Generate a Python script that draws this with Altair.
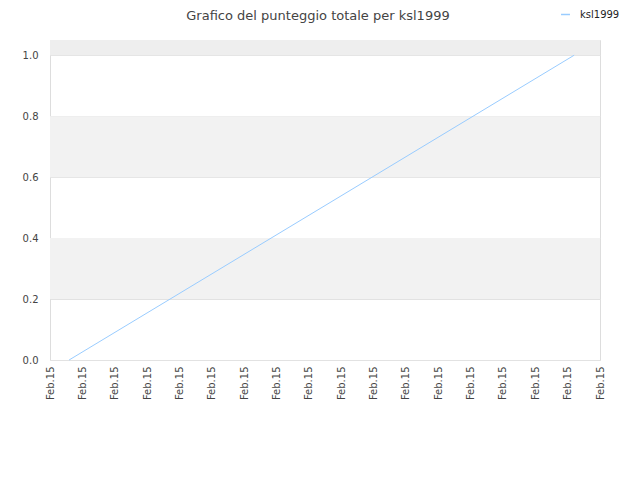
import altair as alt
import pandas as pd

# Data
title_text = "Grafico del punteggio totale per ksl1999"
series_name = "ksl1999"
x_positions = [0.59, 16.2]      # position along the time axis (tick index units)
scores = [0.0, 1.0]
tick_values = list(range(18))
tick_label = "Feb.15"
band_lo = [0.2, 0.6, 1.0]
band_hi = [0.4, 0.8, 1.05]
band_col = ["#f2f2f2", "#f2f2f2", "#eeeeee"]

line_df = pd.DataFrame({"x": x_positions, "y": scores, "serie": [series_name] * len(scores)})
band_df = pd.DataFrame({"lo": band_lo, "hi": band_hi, "c": band_col})

xscale = alt.Scale(domain=[0, 17], nice=False, zero=False)
yscale = alt.Scale(domain=[0, 1.05], nice=False)

bands = alt.Chart(band_df).mark_rect().encode(
    x=alt.value(0), x2=alt.value(550),
    y=alt.Y("lo:Q", scale=yscale),
    y2="hi:Q",
    color=alt.Color("c:N", scale=None),
)

title = alt.Chart(pd.DataFrame({"t": [title_text]})).mark_text(
    fontSize=13, color="#444", font="DejaVu Sans", align="center", baseline="alphabetic"
).encode(text="t:N", x=alt.value(268), y=alt.value(-20))

line = alt.Chart(line_df).mark_line(strokeWidth=1).encode(
    x=alt.X("x:Q", scale=xscale,
            axis=alt.Axis(values=tick_values, labelExpr=f"'{tick_label}'", labelAngle=-90,
                          labelAlign="right", labelBaseline="middle", grid=False, ticks=False,
                          domain=False, title=None, labelFontSize=10, labelColor="#444",
                          labelPadding=6, labelFont="DejaVu Sans")),
    y=alt.Y("y:Q", scale=yscale,
            axis=alt.Axis(values=[0, 0.2, 0.4, 0.6, 0.8, 1.0], format=".1f", grid=True,
                          gridColor="#e2e2e2", ticks=False, domain=False, title=None,
                          labelFontSize=10, labelColor="#444", labelPadding=12,
                          labelFont="DejaVu Sans")),
    color=alt.Color("serie:N", scale=alt.Scale(range=["#99ccff"]),
                    legend=alt.Legend(title=None, orient="none", legendX=510, legendY=-31,
                                      symbolType="stroke", symbolSize=80, symbolStrokeWidth=1.5,
                                      labelOffset=9, labelFontSize=10, labelColor="#222",
                                      labelFont="DejaVu Sans")),
)

chart = alt.layer(bands, line, title).properties(
    width=550, height=320,
    autosize=alt.AutoSizeParams(type="none"),
    padding={"left": 42, "top": 32, "right": 30, "bottom": 110},
).configure_view(stroke="#dcdcdc", strokeWidth=1).configure(background="white")

chart.save("out.html", embed_options={"renderer": "svg", "actions": False})
